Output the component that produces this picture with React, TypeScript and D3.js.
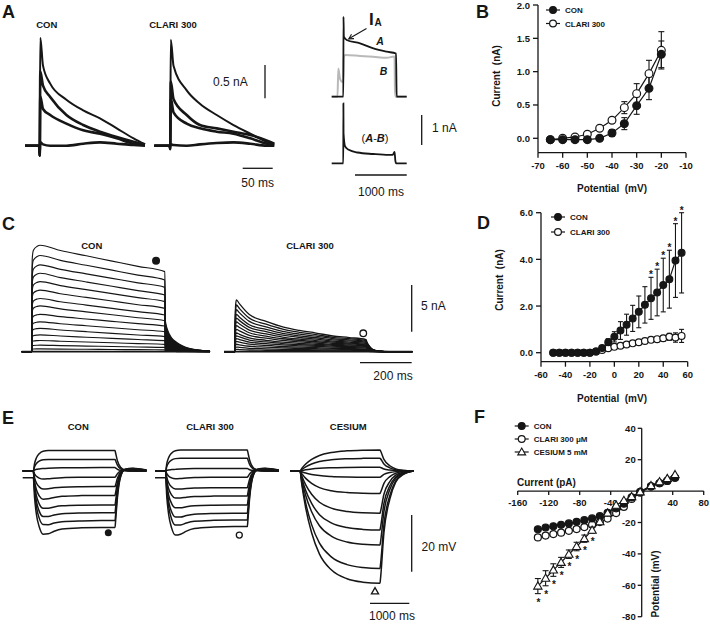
import React from 'react'
import * as d3 from 'd3'

const FONT = 'Arial, "Liberation Sans", Helvetica, sans-serif'
const INK = '#161616'

// ---------- B: transient (I_A) I-V ----------
const bPotential = [-65, -60, -55, -50, -45, -40, -35, -30, -25, -20]
const bCon = [-0.02, -0.02, -0.02, -0.02, 0.0, 0.08, 0.22, 0.49, 0.75, 1.26]
const bConErr = [0, 0, 0, 0, 0.02, 0.05, 0.09, 0.13, 0.17, 0.2]
const bClari = [-0.02, 0.0, 0.02, 0.06, 0.15, 0.27, 0.46, 0.67, 0.97, 1.32]
const bClariErr = [0, 0, 0, 0, 0.02, 0.04, 0.09, 0.15, 0.2, 0.28]
const bXTicks = [-70, -60, -50, -40, -30, -20, -10]
const bYTicks = [0, 0.5, 1.0, 1.5, 2.0]

// ---------- D: sustained I-V ----------
const dPotential = [-50, -45, -40, -35, -30, -25, -20, -15, -10, -5, 0, 5, 10, 15, 20, 25, 30, 35, 40, 45, 50, 55]
const dCon = [0, 0, 0, 0, 0, 0, 0, 0.05, 0.2, 0.45, 0.68, 0.95, 1.2, 1.47, 1.75, 2.05, 2.33, 2.58, 2.9, 3.15, 3.95, 4.28]
const dConErr = [0, 0, 0, 0, 0, 0, 0, 0.02, 0.05, 0.15, 0.22, 0.38, 0.45, 0.56, 0.68, 0.78, 0.9, 1.0, 1.15, 1.24, 1.58, 1.72]
const dClari = [0, 0, 0, 0, 0, 0, 0, 0.05, 0.12, 0.19, 0.25, 0.3, 0.35, 0.4, 0.45, 0.5, 0.55, 0.58, 0.62, 0.68, 0.65, 0.72]
const dClariErr = [0, 0, 0, 0, 0, 0, 0, 0, 0.02, 0.03, 0.03, 0.04, 0.04, 0.05, 0.05, 0.06, 0.08, 0.1, 0.12, 0.15, 0.2, 0.28]
const dStar = [0, 0, 0, 0, 0, 0, 0, 0, 0, 0, 0, 0, 0, 0, 0, 0, 1, 1, 1, 1, 1, 1]
const dXTicks = [-60, -40, -20, 0, 20, 40, 60]
const dYTicks = [0, 2, 4, 6]

// ---------- F: V-I (current clamp) ----------
const fCurrent = [-134, -124, -114, -104, -94, -84, -74, -64, -54, -44, -33, -23, -13, -2, 12, 23, 33, 43]
const fCon = [-24.3, -23.2, -22.4, -21.5, -20.6, -19.6, -18.5, -17.4, -16, -13.8, -11, -8, -4, -0.5, 3, 5, 6.5, 8.5]
const fClari = [-29.5, -28.3, -27.4, -26.5, -25.3, -24.2, -22.9, -21.4, -19.7, -17.5, -14, -10, -5, -1, 3, 5, 6.5, 8.5]
const fCes = [-60.5, -55.5, -50.3, -45.4, -40.2, -35.3, -30.3, -24.9, -19.5, -14, -9, -6, -3.5, -0.5, 3.5, 6, 8, 10.5]
const fCesErr = [4.8, 4.8, 4, 3.2, 2.7, 2.7, 2.3, 2, 1.6, 1.3, 1, 0.8, 0.6, 0.5, 0.5, 0.5, 0.5, 0.5]
const fCesStar = [1, 1, 1, 1, 1, 1, 1, 1, 0, 0, 0, 0, 0, 0, 0, 0, 0, 0]
const fXTicks = [-160, -120, -80, -40, 40, 80]
const fYTicks = [40, 20, -20, -40, -60, -80]

// ---------- A: outward K currents (nA) ----------
const aConT = [0, 23.5, 24.5, 25.5, 30, 42, 69, 97, 125, 153, 181, 200]
const aConTraces = [
  [0, 0, -0.15, 1.62, 1.2, 0.93, 0.69, 0.53, 0.41, 0.26, 0.11, 0.02],
  [0, 0, -0.15, 1.11, 0.9, 0.73, 0.46, 0.31, 0.21, 0.13, 0.06, 0.02],
  [0, 0, -0.15, 0.74, 0.55, 0.46, 0.33, 0.23, 0.18, 0.11, 0.03, 0.01],
  [0, 0, -0.1, 0.05, 0.02, 0.0, 0.0, 0.03, 0.05, 0.03, 0.01, 0],
]
const aClT = [0, 25.5, 26.5, 27.5, 32, 54, 76, 104, 132, 160, 187, 200]
const aClTraces = [
  [0, 0, -0.05, 1.59, 1.2, 0.83, 0.63, 0.46, 0.31, 0.18, 0.06, 0.02],
  [0, 0, -0.05, 0.96, 0.7, 0.46, 0.31, 0.26, 0.21, 0.16, 0.08, 0.03],
  [0, 0, -0.05, 0.71, 0.5, 0.33, 0.26, 0.21, 0.18, 0.11, 0.03, 0.01],
  [0, 0, 0, 0.02, 0.01, 0, 0.02, 0.04, 0.05, 0.03, 0, 0],
]
const arAT = [0, 225, 228, 235, 290, 548, 806, 1064, 1244, 1256, 1450]
const arA = [0, 0, 2.67, 2.0, 1.89, 1.78, 1.61, 1.5, 1.44, 0, 0]
const arBT = [0, 105, 112, 128, 160, 200, 224, 232, 260, 548, 806, 1064, 1215, 1222, 1232, 1450]
const arB = [0, 0, 0, 0.94, 0.6, 0.5, 0.5, 1.3, 1.39, 1.36, 1.33, 1.3, 1.34, 0.3, 0, 0]
const arDiffT = [0, 224, 226, 229, 260, 330, 500, 800, 1100, 1180, 1215, 1230, 1245, 1450]
const arDiff = [0, 0, 2.0, 1.0, 0.56, 0.45, 0.36, 0.31, 0.28, 0.28, 0.38, 0.1, 0, 0]

// ---------- C: step families (nA) ----------
const cConPeak = [11.4, 10.3, 9.3, 8.4, 7.5, 6.6, 5.7, 4.9, 4.0, 3.2, 2.5, 1.8, 1.2, 0.7, 0.3, 0]
const cConEnd = [8.57, 7.68, 6.89, 6.07, 5.36, 4.64, 3.93, 3.32, 2.75, 2.14, 1.61, 1.18, 0.79, 0.46, 0.2, 0]
const cConTail = [3.3, 3.0, 2.7, 2.4, 2.1, 1.8, 1.5, 1.25, 1.0, 0.8, 0.6, 0.4, 0.25, 0.15, 0.05, 0]
const cConT = [0, 38.5, 39.5, 41, 45, 60, 71, 150, 250, 350, 450, 554]
const cConRise = [0, 0, 0.6, 0.88, 0.95, 0.99, 1, 1, 1, 1, 1, 1]
const cConDecay = [0, 0, 0.6, 0.88, 0.95, 0.99, 1, 0.8, 0.6, 0.4, 0.2, 0]
const cConTailT = [556, 565, 580, 600, 630, 680, 729]
const cConTailFrac = [1, 0.7, 0.45, 0.3, 0.16, 0.06, 0.02]

const cClPeak = [5.54, 5.0, 4.5, 4.0, 3.6, 3.2, 2.8, 2.4, 2.0, 1.7, 1.4, 1.1, 0.8, 0.5, 0.25, 0]
const cClEnd = [1.3, 1.2, 1.1, 1.0, 0.9, 0.8, 0.72, 0.64, 0.56, 0.48, 0.4, 0.3, 0.22, 0.14, 0.07, 0]
const cClT = [0, 42, 43, 45, 48, 60, 98, 163, 227, 292, 356, 421, 485, 550]
const cClRise = [0, 0, 0.5, 0.9, 1, 1, 1, 1, 1, 1, 1, 1, 1, 1]
const cClDecay = [0, 0, 0.5, 0.9, 1, 0.9, 0.63, 0.46, 0.32, 0.23, 0.165, 0.09, 0.05, 0]
const cClTailT = [553, 560, 575, 600, 640, 729]
const cClTailFrac = [0.8, 0.55, 0.2, 0.05, 0, 0]

// ---------- E: voltage families (mV) ----------
const eConEnd = [7.2, 4.1, 1.2, -2.2, -5.5, -8.6, -12.0, -14.7, -17.5, -19.9]
const eConPeak = [7.2, 4.1, 0.9, -2.9, -6.5, -10.2, -13.5, -16.5, -19.4, -22.9]
const eClEnd = [7.4, 4.5, 0.9, -2.2, -5.9, -8.8, -12.0, -14.9, -17.3, -19.6]
const eClPeak = [7.4, 4.5, 0.6, -2.8, -6.5, -9.8, -13.3, -16.7, -19.6, -23.2]
const eBase = [0, 0, 0, 0, 0, 0, 0, 0, 0, -2.4]
const eRebound = [0, 0, 0, 0.4, 0.6, 0.8, 1.0, 1.2, 1.4, 1.6]
const eT = [0, 270, 300, 350, 420, 520, 650, 800, 1000, 1500, 2000, 2350]
const eRise = [0, 0, 0.35, 0.65, 0.85, 0.97, 1, 1, 1, 1, 1, 1]
const eBaseFrac = [1, 1, 0.5, 0.2, 0, 0, 0, 0, 0, 0, 0, 0]
const eSag = [0, 0, 0.3, 0.65, 0.92, 1, 0.75, 0.45, 0.2, 0.05, 0, 0]
const eTailT = [2360, 2410, 2490, 2600, 2800, 3150]
const eTailFrac = [0.92, 0.5, 0.18, 0.05, 0, 0]
const eReboundShape = [0, 0.3, 0.9, 1, 0.6, 0.2]

const esEnd = [7.4, 4.5, 1.3, -2.2, -7.9, -14.9, -20.8, -26.1, -34.4, -39.6]
const esT = [0, 254, 300, 400, 550, 750, 1050, 1450, 1850, 2290]
const esRise = [0, 0, 0.12, 0.33, 0.55, 0.74, 0.88, 0.96, 0.99, 1]
const esTailT = [2300, 2390, 2540, 2690, 2890, 3150]
const esTailFrac = [0.97, 0.55, 0.25, 0.1, 0.03, 0]

// ---------- helpers ----------
type Sc = d3.ScaleLinear<number, number>

function trace(xs: Sc, ys: Sc, ts: number[], vs: number[]) {
  return d3.line<number>().x((_, i) => xs(ts[i])).y(v => ys(v)).curve(d3.curveMonotoneX)(vs) || ''
}

function fillUnder(xs: Sc, ys: Sc, ts: number[], vs: number[]) {
  return d3.area<number>().x((_, i) => xs(ts[i])).y0(ys(0)).y1(v => ys(v)).curve(d3.curveMonotoneX)(vs) || ''
}

function Marker({ kind, x, y, r }: { kind: string; x: number; y: number; r: number }) {
  if (kind === 'tri') {
    return <path d={d3.symbol(d3.symbolTriangle, r * r * 2.3)() || ''} transform={`translate(${x},${y + 0.6})`}
      fill="#fff" stroke={INK} strokeWidth={1.1} />
  }
  return <circle cx={x} cy={y} r={r} fill={kind === 'filled' ? INK : '#fff'} stroke={INK} strokeWidth={1.2} />
}

function ErrBar({ x, y0, y1, w = 6 }: { x: number; y0: number; y1: number; w?: number }) {
  return (
    <g stroke={INK} strokeWidth={1.1}>
      <line x1={x} x2={x} y1={y0} y2={y1} />
      <line x1={x - w / 2} x2={x + w / 2} y1={y0} y2={y0} />
      <line x1={x - w / 2} x2={x + w / 2} y1={y1} y2={y1} />
    </g>
  )
}

function Legend({ x, y, dy, items, fs = 8 }: { x: number; y: number; dy: number; items: { kind: string; label: string }[]; fs?: number }) {
  return (
    <g>
      {items.map((it, i) => (
        <g key={it.label}>
          <line x1={x - 7} x2={x + 7} y1={y + i * dy} y2={y + i * dy} stroke={INK} strokeWidth={1.2} />
          <Marker kind={it.kind} x={x} y={y + i * dy} r={3.4} />
          <text x={x + 12} y={y + i * dy + 3} fontSize={fs} fontWeight="bold" fill={INK}>{it.label}</text>
        </g>
      ))}
    </g>
  )
}

function PanelLetter({ x, y, s }: { x: number; y: number; s: string }) {
  return <text x={x} y={y} fontSize={18} fontWeight="bold" fill={INK}>{s}</text>
}

// ---------- panels ----------
function PanelA() {
  const xA1 = d3.scaleLinear().domain([0, 200]).range([25, 145])
  const xA2 = d3.scaleLinear().domain([0, 200]).range([154.3, 274.3])
  const yA = d3.scaleLinear().domain([0, 1]).range([145.7, 79])
  const xAr = d3.scaleLinear().domain([0, 1450]).range([331.7, 406.7])
  const yAr1 = d3.scaleLinear().domain([0, 1]).range([96.7, 66.7])
  const yAr2 = d3.scaleLinear().domain([0, 1]).range([163.3, 133.3])
  const nA05 = yA(0) - yA(0.5)
  const ms50 = xA1(50) - xA1(0)
  const nA1 = yAr2(0) - yAr2(1)
  const ms1000 = xAr(1000) - xAr(0)
  return (
    <g>
      <PanelLetter x={2} y={18} s="A" />
      <text x={46.7} y={28} fontSize={9.5} fontWeight="bold" textAnchor="middle" fill={INK}>CON</text>
      <text x={173} y={28} fontSize={9.5} fontWeight="bold" textAnchor="middle" fill={INK}>CLARI 300</text>
      <g fill="none" stroke={INK} strokeWidth={2.5} strokeLinejoin="round">
        {aConTraces.map((v, i) => <path key={'c' + i} d={trace(xA1, yA, aConT, v)} strokeWidth={i === 0 ? 2 : 2.6} />)}
        {aClTraces.map((v, i) => <path key={'l' + i} d={trace(xA2, yA, aClT, v)} strokeWidth={i === 0 ? 2 : 2.6} />)}
      </g>
      {/* scale bars */}
      <line x1={265} x2={265} y1={98.3} y2={98.3 - nA05} stroke={INK} strokeWidth={1.3} />
      <text x={213} y={86} fontSize={12} fill={INK}>0.5 nA</text>
      <line x1={242.7} x2={242.7 + ms50} y1={168.3} y2={168.3} stroke={INK} strokeWidth={1.3} />
      <text x={242.7 + ms50 / 2} y={187} fontSize={12} textAnchor="middle" fill={INK}>50 ms</text>

      {/* long step, A and B protocols */}
      <path d={trace(xAr, yAr1, arBT, arB)} fill="none" stroke="#b9b9b9" strokeWidth={2} />
      <path d={trace(xAr, yAr1, arAT, arA)} fill="none" stroke={INK} strokeWidth={1.8} />
      <path d={trace(xAr, yAr2, arDiffT, arDiff)} fill="none" stroke={INK} strokeWidth={1.8} />
      <text x={369} y={25} fontSize={17} fontWeight="bold" fill={INK}>I</text>
      <text x={374.5} y={26} fontSize={10} fontWeight="bold" fill={INK}>A</text>
      <g stroke={INK} strokeWidth={1.1} fill="none">
        <line x1={366.5} y1={28.5} x2={348.8} y2={38.8} />
        <polyline points="351.5,34.2 348.8,38.8 354,38.6" />
      </g>
      <text x={380} y={45} fontSize={10.5} fontWeight="bold" fontStyle="italic" textAnchor="middle" fill={INK}>A</text>
      <text x={383.5} y={75} fontSize={10.5} fontWeight="bold" fontStyle="italic" textAnchor="middle" fill={INK}>B</text>
      <text x={375} y={141.5} fontSize={11} textAnchor="middle" fill={INK}>
        (<tspan fontWeight="bold" fontStyle="italic">A</tspan>-<tspan fontWeight="bold" fontStyle="italic">B</tspan>)
      </text>
      <line x1={421.7} x2={421.7} y1={145} y2={145 - nA1} stroke={INK} strokeWidth={1.3} />
      <text x={432} y={132} fontSize={12} fill={INK}>1 nA</text>
      <line x1={355} x2={355 + ms1000} y1={175} y2={175} stroke={INK} strokeWidth={1.3} />
      <text x={381} y={196} fontSize={12} textAnchor="middle" fill={INK}>1000 ms</text>
    </g>
  )
}

function PanelB() {
  const x = d3.scaleLinear().domain([-70, -10]).range([538, 686])
  const y = d3.scaleLinear().domain([0, 2]).range([138.3, 5])
  const axY = 152.7
  const fmt = d3.format('.1f')
  const lineCon = d3.line<number>().x((_, i) => x(bPotential[i])).y(v => y(v))(bCon) || ''
  const lineCl = d3.line<number>().x((_, i) => x(bPotential[i])).y(v => y(v))(bClari) || ''
  return (
    <g>
      <PanelLetter x={476} y={18} s="B" />
      <g stroke={INK} strokeWidth={1.3}>
        <line x1={x(-70)} x2={x(-70)} y1={y(2)} y2={axY} />
        <line x1={x(-70)} x2={x(-10)} y1={axY} y2={axY} />
        {bYTicks.map(t => <line key={t} x1={x(-70) - 5} x2={x(-70)} y1={y(t)} y2={y(t)} />)}
        {bXTicks.map(t => <line key={t} x1={x(t)} x2={x(t)} y1={axY} y2={axY + 5} />)}
      </g>
      <g fontSize={9.5} fontWeight="bold" fill={INK}>
        {bYTicks.map(t => <text key={t} x={x(-70) - 8} y={y(t) + 3.5} textAnchor="end">{fmt(t)}</text>)}
        {bXTicks.map(t => <text key={t} x={x(t)} y={axY + 16} textAnchor="middle">{t}</text>)}
      </g>
      <text x={612} y={192} fontSize={10} fontWeight="bold" textAnchor="middle" fill={INK} style={{ whiteSpace: 'pre' }}>Potential  (mV)</text>
      <text transform="translate(500,76) rotate(-90)" fontSize={10} fontWeight="bold" textAnchor="middle" fill={INK} style={{ whiteSpace: 'pre' }}>Current  (nA)</text>
      <path d={lineCl} fill="none" stroke={INK} strokeWidth={1.2} />
      <path d={lineCon} fill="none" stroke={INK} strokeWidth={1.2} />
      {bPotential.map((p, i) => bClariErr[i] > 0.03 ? <ErrBar key={'el' + p} x={x(p)} y0={y(bClari[i] + bClariErr[i])} y1={y(bClari[i] - bClariErr[i])} /> : null)}
      {bPotential.map((p, i) => bConErr[i] > 0.03 ? <ErrBar key={'ec' + p} x={x(p)} y0={y(bCon[i] + bConErr[i])} y1={y(bCon[i] - bConErr[i])} /> : null)}
      {bPotential.map((p, i) => <Marker key={'ml' + p} kind="open" x={x(p)} y={y(bClari[i])} r={3.9} />)}
      {bPotential.map((p, i) => <Marker key={'mc' + p} kind="filled" x={x(p)} y={y(bCon[i])} r={3.9} />)}
      <Legend x={553} y={10} dy={13.5} items={[{ kind: 'filled', label: 'CON' }, { kind: 'open', label: 'CLARI 300' }]} />
    </g>
  )
}

function PanelC() {
  const xC1 = d3.scaleLinear().domain([0, 730]).range([21.7, 210.3])
  const xC2 = d3.scaleLinear().domain([0, 730]).range([224, 412.6])
  const yC = d3.scaleLinear().domain([0, 5]).range([351.7, 305])
  const conT = [...cConT, ...cConTailT]
  const clT = [...cClT, ...cClTailT]
  const nA5 = yC(0) - yC(5)
  const ms200 = xC1(200) - xC1(0)
  const conTailTop = cConTailFrac.map(f => f * cConTail[0])
  return (
    <g>
      <PanelLetter x={2} y={230} s="C" />
      <text x={91.7} y={249} fontSize={9.5} fontWeight="bold" textAnchor="middle" fill={INK}>CON</text>
      <text x={310} y={249} fontSize={9.5} fontWeight="bold" textAnchor="middle" fill={INK}>CLARI 300</text>
      <path d={fillUnder(xC1, yC, cConTailT, conTailTop)} fill={INK} />
      <g fill="none" stroke={INK} strokeWidth={1.15} strokeLinejoin="round">
        {cConPeak.map((pk, k) => {
          const step = cConT.map((_, i) => cConRise[i] * cConEnd[k] + cConDecay[i] * (pk - cConEnd[k]))
          const tail = cConTailFrac.map(f => f * cConTail[k])
          return <path key={'c' + k} d={trace(xC1, yC, conT, [...step, ...tail])} strokeWidth={k === cConPeak.length - 1 ? 1.8 : 1.15} />
        })}
        {cClPeak.map((pk, k) => {
          const step = cClT.map((_, i) => cClRise[i] * cClEnd[k] + cClDecay[i] * (pk - cClEnd[k]))
          const tail = cClTailFrac.map(f => f * cClEnd[k])
          return <path key={'l' + k} d={trace(xC2, yC, clT, [...step, ...tail])} strokeWidth={k === cClPeak.length - 1 ? 1.8 : 1.3} />
        })}
      </g>
      <circle cx={xC1(520)} cy={yC(9.75)} r={4} fill={INK} />
      <circle cx={xC2(539)} cy={yC(1.97)} r={3.3} fill="#fff" stroke={INK} strokeWidth={1.3} />
      <line x1={411.7} x2={411.7} y1={331.7} y2={331.7 - nA5} stroke={INK} strokeWidth={1.3} />
      <text x={421} y={310} fontSize={12} fill={INK}>5 nA</text>
      <line x1={360} x2={360 + ms200} y1={362.7} y2={362.7} stroke={INK} strokeWidth={1.3} />
      <text x={393} y={380} fontSize={12} textAnchor="middle" fill={INK}>200 ms</text>
    </g>
  )
}

function PanelD() {
  const x = d3.scaleLinear().domain([-60, 60]).range([541, 687.7])
  const y = d3.scaleLinear().domain([0, 6]).range([352.7, 212.7])
  const axY = 361.7
  const fmt = d3.format('.1f')
  const lineCon = d3.line<number>().x((_, i) => x(dPotential[i])).y(v => y(v))(dCon) || ''
  const lineCl = d3.line<number>().x((_, i) => x(dPotential[i])).y(v => y(v))(dClari) || ''
  return (
    <g>
      <PanelLetter x={477} y={229} s="D" />
      <g stroke={INK} strokeWidth={1.3}>
        <line x1={x(-60)} x2={x(-60)} y1={y(6)} y2={axY} />
        <line x1={x(-60)} x2={x(60)} y1={axY} y2={axY} />
        {dYTicks.map(t => <line key={t} x1={x(-60) - 5} x2={x(-60)} y1={y(t)} y2={y(t)} />)}
        {dXTicks.map(t => <line key={t} x1={x(t)} x2={x(t)} y1={axY} y2={axY + 5} />)}
      </g>
      <g fontSize={9.5} fontWeight="bold" fill={INK}>
        {dYTicks.map(t => <text key={t} x={x(-60) - 8} y={y(t) + 3.5} textAnchor="end">{fmt(t)}</text>)}
        {dXTicks.map(t => <text key={t} x={x(t)} y={axY + 16} textAnchor="middle">{t}</text>)}
      </g>
      <text x={612} y={402} fontSize={10} fontWeight="bold" textAnchor="middle" fill={INK} style={{ whiteSpace: 'pre' }}>Potential  (mV)</text>
      <text transform="translate(503,280) rotate(-90)" fontSize={10} fontWeight="bold" textAnchor="middle" fill={INK} style={{ whiteSpace: 'pre' }}>Current  (nA)</text>
      <path d={lineCl} fill="none" stroke={INK} strokeWidth={1.2} />
      <path d={lineCon} fill="none" stroke={INK} strokeWidth={1.2} />
      {dPotential.map((p, i) => dClariErr[i] > 0.06 ? <ErrBar key={'el' + p} x={x(p)} y0={y(dClari[i] + dClariErr[i])} y1={y(dClari[i] - dClariErr[i])} w={5} /> : null)}
      {dPotential.map((p, i) => dConErr[i] > 0.06 ? <ErrBar key={'ec' + p} x={x(p)} y0={y(dCon[i] + dConErr[i])} y1={y(dCon[i] - dConErr[i])} w={5} /> : null)}
      {dPotential.map((p, i) => <Marker key={'ml' + p} kind="open" x={x(p)} y={y(dClari[i])} r={3.4} />)}
      {dPotential.map((p, i) => <Marker key={'mc' + p} kind="filled" x={x(p)} y={y(dCon[i])} r={3.4} />)}
      {dPotential.map((p, i) => dStar[i] ? <text key={'s' + p} x={x(p)} y={y(dCon[i] + dConErr[i]) + 1} fontSize={10} fontWeight="bold" textAnchor="middle" fill={INK}>*</text> : null)}
      <Legend x={558} y={217} dy={15} items={[{ kind: 'filled', label: 'CON' }, { kind: 'open', label: 'CLARI 300' }]} />
    </g>
  )
}

function PanelE() {
  const xE1 = d3.scaleLinear().domain([0, 3150]).range([22.7, 146.5])
  const xE2 = d3.scaleLinear().domain([0, 3150]).range([155, 278.8])
  const xE3 = d3.scaleLinear().domain([0, 3150]).range([290, 413.8])
  const yE = d3.scaleLinear().domain([0, 20]).range([471, 414.3])
  const tAll = [...eT, ...eTailT]
  const esAll = [...esT, ...esTailT]
  const family = (ends: number[], peaks: number[]) => ends.map((end, k) => {
    const step = eT.map((_, i) => eRise[i] * end + eSag[i] * (peaks[k] - end) + eBaseFrac[i] * eBase[k])
    const tail = eTailFrac.map((f, i) => f * end + eReboundShape[i] * eRebound[k])
    return [...step, ...tail]
  })
  const mV20 = yE(0) - yE(20)
  const ms1000 = xE1(1000) - xE1(0)
  return (
    <g>
      <PanelLetter x={2} y={424} s="E" />
      <text x={78.3} y={430} fontSize={9.5} fontWeight="bold" textAnchor="middle" fill={INK}>CON</text>
      <text x={210} y={430} fontSize={9.5} fontWeight="bold" textAnchor="middle" fill={INK}>CLARI 300</text>
      <text x={348.3} y={430} fontSize={9.5} fontWeight="bold" textAnchor="middle" fill={INK}>CESIUM</text>
      <g fill="none" stroke={INK} strokeWidth={1.5} strokeLinejoin="round">
        {family(eConEnd, eConPeak).map((v, k) => <path key={'c' + k} d={trace(xE1, yE, tAll, v)} />)}
        {family(eClEnd, eClPeak).map((v, k) => <path key={'l' + k} d={trace(xE2, yE, tAll, v)} />)}
        {esEnd.map((end, k) => {
          const v = [...esRise.map(r => r * end), ...esTailFrac.map(f => f * end)]
          return <path key={'s' + k} d={trace(xE3, yE, esAll, v)} />
        })}
      </g>
      <circle cx={xE1(2178)} cy={yE(-21.8)} r={3.5} fill={INK} />
      <circle cx={xE2(2145)} cy={yE(-22.6)} r={3} fill="#fff" stroke={INK} strokeWidth={1.3} />
      <path d={d3.symbol(d3.symbolTriangle, 22)() || ''} transform={`translate(${xE3(2163)},${yE(-42.6)})`} fill="#fff" stroke={INK} strokeWidth={1.3} />
      <line x1={411.7} x2={411.7} y1={571.7} y2={571.7 - mV20} stroke={INK} strokeWidth={1.3} />
      <text x={421.5} y={551} fontSize={12} fill={INK}>20 mV</text>
      <line x1={370} x2={370 + ms1000} y1={603.3} y2={603.3} stroke={INK} strokeWidth={1.3} />
      <text x={392} y={620} fontSize={12} textAnchor="middle" fill={INK}>1000 ms</text>
    </g>
  )
}

function PanelF() {
  const x = d3.scaleLinear().domain([-160, 80]).range([517.7, 703.7])
  const y = d3.scaleLinear().domain([-80, 40]).range([616.7, 428.3])
  const mk = (vs: number[]) => d3.line<number>().x((_, i) => x(fCurrent[i])).y(v => y(v))(vs) || ''
  return (
    <g>
      <PanelLetter x={474} y={423} s="F" />
      <g stroke={INK} strokeWidth={1.3}>
        <line x1={x(-160)} x2={x(80)} y1={y(0)} y2={y(0)} />
        <line x1={x(0)} x2={x(0)} y1={y(40)} y2={y(-80)} />
        {fXTicks.map(t => <line key={t} x1={x(t)} x2={x(t)} y1={y(0)} y2={y(0) + 4} />)}
        {fYTicks.map(t => <line key={t} x1={x(0) - 4} x2={x(0)} y1={y(t)} y2={y(t)} />)}
      </g>
      <g fontSize={9.5} fontWeight="bold" fill={INK}>
        {fXTicks.map(t => <text key={t} x={x(t)} y={y(0) + 15} textAnchor="middle">{t}</text>)}
        {fYTicks.map(t => <text key={t} x={x(0) - 6} y={y(t) + 3.5} textAnchor="end">{t}</text>)}
      </g>
      <text x={517} y={486} fontSize={10} fontWeight="bold" fill={INK}>Current (pA)</text>
      <text transform={`translate(${x(0) + 17},584) rotate(-90)`} fontSize={10} fontWeight="bold" textAnchor="middle" fill={INK}>Potential (mV)</text>
      <path d={mk(fCes)} fill="none" stroke={INK} strokeWidth={1.2} />
      <path d={mk(fClari)} fill="none" stroke={INK} strokeWidth={1.2} />
      <path d={mk(fCon)} fill="none" stroke={INK} strokeWidth={1.2} />
      {fCurrent.map((c, i) => <Marker key={'l' + c} kind="open" x={x(c)} y={y(fClari[i])} r={3.5} />)}
      {fCurrent.map((c, i) => <Marker key={'c' + c} kind="filled" x={x(c)} y={y(fCon[i])} r={3.5} />)}
      {fCurrent.map((c, i) => fCesErr[i] > 1.2 ? <ErrBar key={'e' + c} x={x(c)} y0={y(fCes[i] + fCesErr[i])} y1={y(fCes[i] - fCesErr[i])} w={6} /> : null)}
      {fCurrent.map((c, i) => <Marker key={'t' + c} kind="tri" x={x(c)} y={y(fCes[i])} r={3.6} />)}
      {fCurrent.map((c, i) => fCesStar[i] ? <text key={'s' + c} x={x(c) + 0.5} y={y(fCes[i] - fCesErr[i]) + 12} fontSize={10} fontWeight="bold" textAnchor="middle" fill={INK}>*</text> : null)}
      <Legend x={521.7} y={426} dy={13} items={[{ kind: 'filled', label: 'CON' }, { kind: 'open', label: 'CLARI 300 μM' }, { kind: 'tri', label: 'CESIUM 5 mM' }]} />
    </g>
  )
}

export default function App() {
  return (
    <div style={{ position: 'absolute', left: 0, top: 0, width: 710, height: 624, background: '#fff' }}>
      <svg width={710} height={624} style={{ display: 'block' }} fontFamily={FONT}>
        <rect width={710} height={624} fill="#fff" />
        <PanelA />
        <PanelB />
        <PanelC />
        <PanelD />
        <PanelE />
        <PanelF />
      </svg>
    </div>
  )
}
